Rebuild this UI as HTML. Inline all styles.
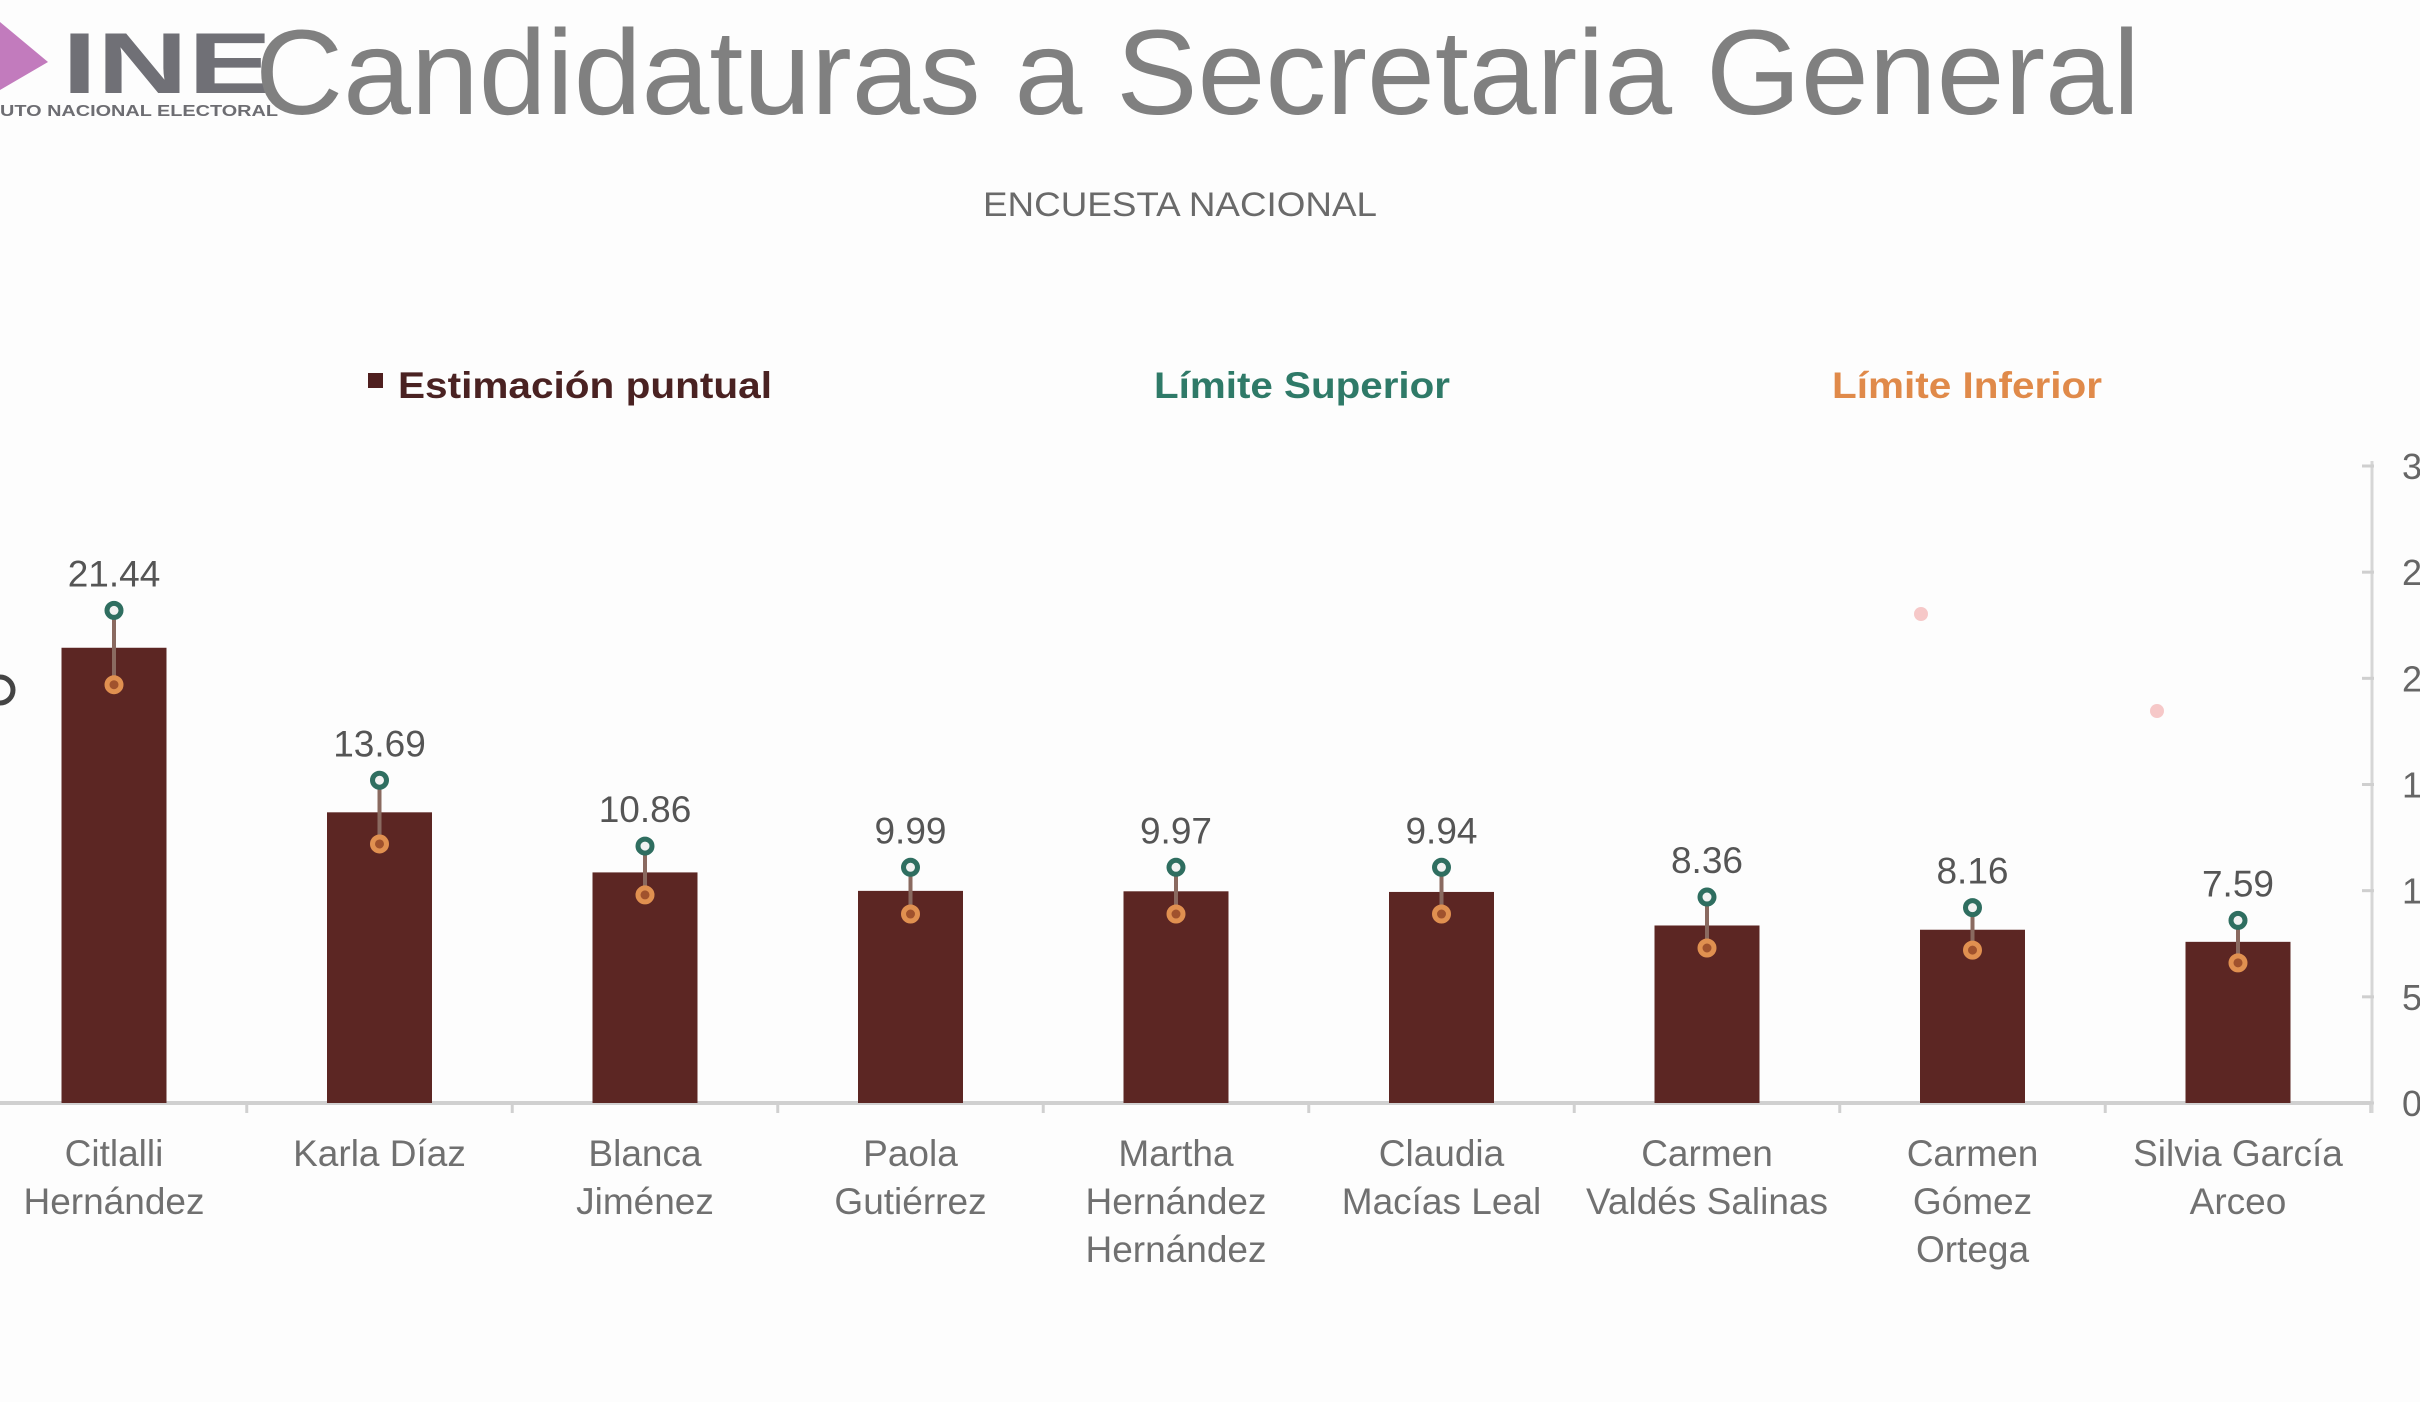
<!DOCTYPE html>
<html><head><meta charset="utf-8">
<style>
html,body{margin:0;padding:0;background:#fdfdfd;}
svg{display:block;font-family:"Liberation Sans",sans-serif;}
</style></head>
<body>
<svg id="chart" width="2420" height="1402" viewBox="0 0 2420 1402" xmlns="http://www.w3.org/2000/svg">
  <rect width="2420" height="1402" fill="#fdfdfd"/>
  <g>
    <polygon points="0,22 48,62 0,90" fill="#c27bbd"/>
    <text x="62" y="93" font-size="86" font-weight="bold" fill="#707076" textLength="210" lengthAdjust="spacingAndGlyphs">INE</text>
    <text x="0" y="116" font-size="16" font-weight="bold" fill="#6d6d72" textLength="278" lengthAdjust="spacingAndGlyphs">UTO NACIONAL ELECTORAL</text>
  </g>
  <text x="255" y="114" font-size="121" fill="#808080" textLength="1885" lengthAdjust="spacingAndGlyphs">Candidaturas a Secretaria General</text>
  <text x="1180" y="216" font-size="34" fill="#6a6a6a" text-anchor="middle" textLength="394" lengthAdjust="spacingAndGlyphs">ENCUESTA NACIONAL</text>
  <g>
    <g>
      <rect x="368" y="373" width="15" height="15" fill="#4f1f1f"/>
      <text x="398" y="398" font-size="37" font-weight="bold" fill="#4a2222" textLength="374" lengthAdjust="spacingAndGlyphs">Estimación puntual</text>
    </g>
    <g>
      <text x="1154" y="398" font-size="37" font-weight="bold" fill="#2f7a68" textLength="296" lengthAdjust="spacingAndGlyphs">Límite Superior</text>
    </g>
    <g>
      <text x="1832" y="398" font-size="37" font-weight="bold" fill="#e08a4a" textLength="270" lengthAdjust="spacingAndGlyphs">Límite Inferior</text>
    </g>
  </g>
  <circle cx="0" cy="690" r="13" fill="none" stroke="#444" stroke-width="5"/>
  <circle cx="1921" cy="614" r="7" fill="#f6c8c8"/>
  <circle cx="2157" cy="711" r="7" fill="#f6c8c8"/>
  <g id="plot"></g>
</svg>
<script>
const categories = [["Citlalli","Hernández"],["Karla Díaz"],["Blanca","Jiménez"],["Paola","Gutiérrez"],["Martha","Hernández","Hernández"],["Claudia","Macías Leal"],["Carmen","Valdés Salinas"],["Carmen","Gómez","Ortega"],["Silvia García","Arceo"]];
const estimates = [21.44, 13.69, 10.86, 9.99, 9.97, 9.94, 8.36, 8.16, 7.59];
const upperLimits = [23.2, 15.2, 12.1, 11.1, 11.1, 11.1, 9.7, 9.2, 8.6];
const lowerLimits = [19.7, 12.2, 9.8, 8.9, 8.9, 8.9, 7.3, 7.2, 6.6];
const yTicks = [0, 5, 10, 15, 20, 25, 30];

const NS = "http://www.w3.org/2000/svg";
const g = document.getElementById("plot");
const baseY = 1103, topY = 466, yMax = 30;
const x0 = 114, step = 265.5, barW = 105, axisX = 2372;
const y = v => baseY - (v / yMax) * (baseY - topY);
const xc = i => x0 + i * step;
function mk(tag, attrs) { const e = document.createElementNS(NS, tag); for (const k in attrs) e.setAttribute(k, attrs[k]); g.appendChild(e); return e; }

let ax = mk("line", {x1: 0, y1: baseY, x2: axisX, y2: baseY, stroke: "#d0d0d0", "stroke-width": 4});


for (let i = 0; i <= categories.length; i++) {
  const tx = xc(i) - step / 2;
  const t = mk("line", {x1: tx, y1: baseY, x2: tx, y2: baseY + 10, stroke: "#d0d0d0", "stroke-width": 3});
  
  
}
let ay = mk("line", {x1: axisX, y1: topY - 5, x2: axisX, y2: baseY + 10, stroke: "#d6d6d6", "stroke-width": 3});


yTicks.forEach(v => {
  const t = mk("line", {x1: axisX - 10, y1: y(v), x2: axisX + 2, y2: y(v), stroke: "#cfcfcf", "stroke-width": 3});
  
  
  const l = mk("text", {x: 2402, y: y(v) + 13, "font-size": 36, fill: "#666"});
  l.textContent = v;
  
  
});

estimates.forEach((v, i) => {
  const cx = xc(i);
  const b = mk("rect", {x: cx - barW / 2, y: y(v), width: barW, height: baseY - y(v), fill: "#5c2623"});
  
  
  const el = mk("line", {x1: cx, y1: y(upperLimits[i]), x2: cx, y2: y(lowerLimits[i]), stroke: "#8a6a60", "stroke-width": 4});
  
  
  const up = mk("circle", {cx: cx, cy: y(upperLimits[i]), r: 7, fill: "#f2f2f2", stroke: "#2f6e60", "stroke-width": 5});
  
  
  const lo = mk("circle", {cx: cx, cy: y(lowerLimits[i]), r: 7, fill: "#a0522d", stroke: "#e09050", "stroke-width": 5});
  
  
  const vl = mk("text", {x: cx, y: y(upperLimits[i]) - 24, "font-size": 37, fill: "#555", "text-anchor": "middle"});
  vl.textContent = v.toFixed(2);
  
  
  categories[i].forEach((line, j) => {
    const cl = mk("text", {x: cx, y: 1166 + j * 48, "font-size": 37, fill: "#707070", "text-anchor": "middle"});
    cl.textContent = line;
    
    
  });
});
</script>
</body></html>
